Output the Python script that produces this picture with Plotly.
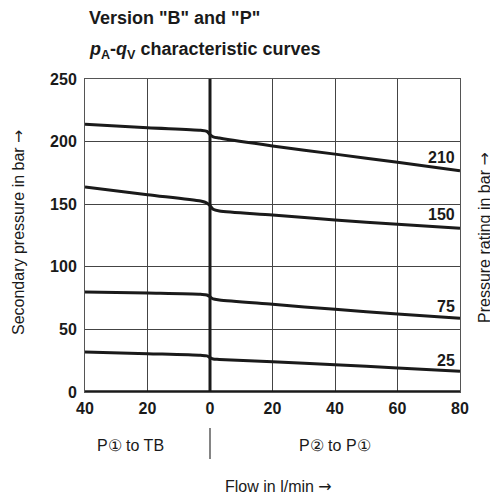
import plotly.graph_objects as go

flow = [-40, -20, -3, -1, 0, 1, 3, 20, 40, 60, 80]
p210 = [213.8, 211.0, 209.0, 208.2, 205.5, 203.8, 202.8, 196.5, 190.0, 183.5, 176.8]
p150 = [163.7, 157.6, 152.5, 151.0, 148.8, 146.0, 144.5, 141.4, 137.4, 133.9, 130.7]
p75 = [79.9, 79.0, 78.0, 77.5, 76.0, 74.3, 73.5, 70.0, 66.0, 62.3, 58.9]
p25 = [32.0, 30.6, 29.3, 28.8, 27.4, 26.3, 26.0, 24.2, 21.8, 19.2, 16.5]
series = [("210", p210, 187.5), ("150", p150, 141.5), ("75", p75, 68.5), ("25", p25, 25.5)]

x_tickvals = [-40, -20, 0, 20, 40, 60, 80]
x_ticktext = ["40", "20", "0", "20", "40", "60", "80"]
y_tickvals = [0, 50, 100, 150, 200, 250]

FONT = "Liberation Sans, Arial, sans-serif"
OFF = 8  # page body margin
ARROW = '<span style="font-family:DejaVu Sans">→</span>'

fig = go.Figure()
for name, vals, ly in series:
    fig.add_trace(go.Scatter(x=flow, y=vals, mode="lines",
                             line=dict(color="#1a1a1a", width=3, shape="spline", smoothing=0.8),
                             showlegend=False, hoverinfo="skip"))
    fig.add_annotation(x=79, y=ly, text="<b>%s</b>" % name, showarrow=False,
                       xanchor="right", yanchor="middle",
                       font=dict(family=FONT, size=16, color="#1a1a1a"))

# thick zero lines
fig.add_shape(type="line", x0=0, x1=0, y0=0, y1=250, xref="x", yref="y",
              line=dict(color="#1a1a1a", width=3), layer="above")
fig.add_shape(type="line", x0=-40, x1=80, y0=0, y1=0, xref="x", yref="y",
              line=dict(color="#1a1a1a", width=3.5), layer="above")

W = 498 - OFF
fig.update_layout(
    width=W, height=W,
    margin=dict(l=85 - OFF, r=W - (460 - OFF), t=79 - OFF, b=W - (392 - OFF)),
    paper_bgcolor="white", plot_bgcolor="white",
    font=dict(family=FONT, color="#1a1a1a"),
    xaxis=dict(range=[-40, 80], tickvals=x_tickvals, ticktext=x_ticktext,
               showgrid=True, gridcolor="#444", gridwidth=1, zeroline=False,
               showline=True, linecolor="#555", linewidth=1, mirror=True,
               ticks="", tickfont=dict(family=FONT, size=16, color="#1a1a1a", weight="bold"),
               ticklabelstandoff=2),
    yaxis=dict(range=[0, 250], tickvals=y_tickvals,
               showgrid=True, gridcolor="#444", gridwidth=1, zeroline=False,
               showline=True, linecolor="#555", linewidth=1, mirror=True,
               ticks="", tickfont=dict(family=FONT, size=16, color="#1a1a1a", weight="bold"),
               ticklabelstandoff=4),
)

ann = dict(showarrow=False, xref="paper", yref="paper")
def px(x):
    return (x - 85) / 375.0
def py(y):
    return (392 - y) / 313.0

fig.add_annotation(text="<b>Version \"B\" and \"P\"</b>", x=px(87), y=py(18), xanchor="left",
                   yanchor="middle", font=dict(size=18), **ann)
fig.add_annotation(text="<b><i>p</i><sub>A</sub>-<i>q</i><sub>V</sub> characteristic curves</b>",
                   x=px(87), y=py(50), xanchor="left", yanchor="middle", font=dict(size=18), **ann)
fig.add_annotation(text="Secondary pressure in bar " + ARROW, x=px(18), y=py(232), textangle=-90,
                   xanchor="center", yanchor="middle", font=dict(size=16), **ann)
fig.add_annotation(text="Pressure rating in bar " + ARROW, x=px(484), y=py(238), textangle=-90,
                   xanchor="center", yanchor="middle", font=dict(size=16), **ann)
fig.add_annotation(text="P① to TB", x=px(130), y=py(445), xanchor="center",
                   yanchor="middle", font=dict(size=16), **ann)
fig.add_annotation(text="P② to P①", x=px(335), y=py(445), xanchor="center",
                   yanchor="middle", font=dict(size=16), **ann)
fig.add_annotation(text="Flow in l/min " + ARROW, x=px(278), y=py(486), xanchor="center",
                   yanchor="middle", font=dict(size=16), **ann)
fig.add_shape(type="line", xref="paper", yref="paper", x0=px(210), x1=px(210),
              y0=py(428), y1=py(459), line=dict(color="#333", width=1.2))

fig.write_html("out.html")
